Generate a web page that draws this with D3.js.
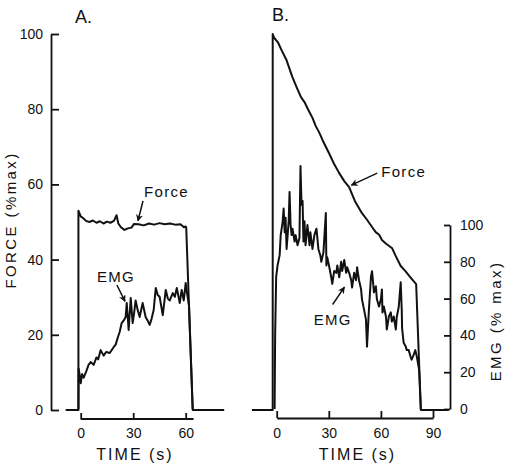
<!DOCTYPE html>
<html>
<head>
<meta charset="utf-8">
<script src="https://cdn.jsdelivr.net/npm/d3@7"></script>
<style>
  html, body { margin: 0; padding: 0; background: #fff; }
  svg text { font-family: "Liberation Sans", Arial, sans-serif; fill: #111; }
</style>
</head>
<body>
<div id="chart"></div>
<script>
const width = 517;
const height = 473;

// Tick values
const forceTicks = [0, 20, 40, 60, 80, 100];
const emgTicks = [0, 20, 40, 60, 80, 100];
const timeTicksA = [0, 30, 60];
const timeTicksB = [0, 30, 60, 90];

// Panel A: [time (s), % max]
const forceA = [[-8.6,0],[-1.3,0],[-1.3,53],[0,51.5],[1.5,51],[3,50.3],[5,50],[7,50.4],[9,49.8],[11,50.2],
  [13,49.6],[15,50.1],[17,49.8],[19,50.3],[20.5,51.8],[21.5,49.6],[23,48.6],[25,47.9],[27,48.3],[29,48.5],
  [30.5,49.5],[33,49.4],[36,49.1],[39,49.6],[42,49.3],[45,49.7],[48,49.4],[51,49.6],[54,49.3],[57,49.4],
  [59,48.6],[60,48.8],[60.3,48.5],[64,0],[82,0]];
const emgA = [[-1.3,0],[-1.2,22],[-0.5,18],[0,14],[0.8,19],[1.7,17],[3,20],[4.5,24],[5.7,25.5],[7.4,24],
  [9,28],[10,27],[11.4,32],[13.1,29],[14.5,31],[16.6,30.4],[18.9,33.7],[20,35],[21.1,38.6],[22.3,42],
  [23.4,46.7],[24.5,48],[25.7,50],[26.3,57.6],[27.4,43],[28.6,60.3],[29.7,46.7],[30.5,52],[31.4,59],[32.5,54],
  [33.7,50],[35.4,57.6],[37.1,50],[38.3,48],[39.4,45.7],[40.5,49],[41.7,53.8],[42.9,65.8],[44,62],[45.1,61],
  [46.9,51],[48.6,64.7],[49.8,60],[50.9,59],[52.6,63],[53.8,61],[54.9,65.8],[56.6,57.6],[57.7,64.7],[58.9,59],
  [60,68.5],[60.6,64],[61.9,56],[64,0]];

// Panel B: [time (s), % max]
const forceB = [[-14.3,0],[-2.3,0],[-2.3,100],[-1.5,99],[0.7,97.8],[3,95.5],[5.7,93],[7.5,90.6],[9,88.6],
  [11.5,85.8],[14,83.2],[16,81.9],[18,80],[20.6,77.7],[22.5,75.5],[24.6,73.7],[27,71.2],[30,68.4],[33,65.5],
  [36,63],[39,60.8],[41.7,59.3],[45,55.6],[49,52.4],[52,50.6],[55,48.6],[57,47.3],[59,46.6],[60.6,45.2],
  [63,44.2],[66.5,43],[68.5,41],[71.4,38.3],[74,37],[77,35.3],[80.3,33.5],[83,0],[99,0]];
const emgB = [[-1.2,0],[-0.9,40],[-0.3,72],[0.5,78],[1.7,83.6],[2.3,94.5],[3.4,101.6],[4,109],[4.6,96],[5.1,104],
  [5.7,87],[6.9,102],[7.4,118],[8,100],[8.6,94.5],[9.1,98],[10.3,91],[10.9,94.5],[12,89],[13.1,93],
  [13.7,132],[14.3,111],[14.9,113],[15.4,91],[16,102],[16.6,89],[17.7,100],[18.9,89],[19.4,96],[20.6,87],
  [21.7,94.5],[22.9,98],[24,87],[25.1,83.6],[25.7,80],[26.9,85],[28.3,106.5],[28.6,78],[29.1,82.5],[30.3,77],
  [31.4,71.6],[32,68],[33.1,75],[34.3,74],[34.9,78],[36,71.6],[37.1,80],[37.7,75],[38.9,81],[40,74],
  [40.6,77],[41.7,74],[42.9,70],[43.4,66],[44.6,74],[45.7,70],[46.3,77],[47.4,70],[48.6,65],[49.1,59.6],
  [50.3,54],[51.4,48.6],[52,33.9],[53.1,54],[54.3,72],[54.9,74.9],[56,63.4],[57.1,66.7],[57.7,59.6],[58.9,55.7],
  [60,59.6],[60.6,65],[60.9,52.5],[61.7,55.7],[62.9,50.3],[63.4,43.2],[64.6,50.3],[65.7,52.5],[66.3,47.5],[67.4,50.3],
  [68.6,43.2],[69.1,49.7],[70.3,55.7],[71.4,68.9],[72,54],[72.2,44],[73.1,36],[74.3,34],[74.9,32],[76,32],
  [77.1,28.4],[77.7,26.8],[78.9,29.5],[79.8,32],[80.7,28.4],[82,21.3],[83,0]];

// Annotations: label position and arrow, in data units
const notesA = [
  { text: "Force", scale: "force", lt: 36.2, lv: 56.6, from: [35.6, 55.6], to: [32.7, 50.3] },
  { text: "EMG", scale: "emg", lt: 9.3, lv: 69, from: [20.7, 67.4], to: [25.3, 58.5] }
];
const notesB = [
  { text: "Force", scale: "force", lt: 60.2, lv: 62, from: [57.9, 63], to: [43, 59.8] },
  { text: "EMG", scale: "emg", lt: 21.3, lv: 45.9, from: [32.2, 56.8], to: [39, 66.2] }
];

const ink = "#111";

const svg = d3.select("#chart")
  .append("svg")
  .attr("width", width)
  .attr("height", height);

svg.append("defs").append("marker")
  .attr("id", "arrowhead")
  .attr("viewBox", "0 0 10 10")
  .attr("refX", 9)
  .attr("refY", 5)
  .attr("markerWidth", 7)
  .attr("markerHeight", 7)
  .attr("markerUnits", "userSpaceOnUse")
  .attr("orient", "auto")
  .append("path")
  .attr("d", "M0,0 L10,5 L0,10 L3,5 Z")
  .attr("fill", ink);

// Scales
const xA = d3.scaleLinear().domain([0, 60]).range([80.7, 185.7]);
const xB = d3.scaleLinear().domain([0, 90]).range([276.7, 433]);
const yForce = d3.scaleLinear().domain([0, 100]).range([410, 34]);
const yEmg = d3.scaleLinear().domain([0, 100]).range([409, 225]);

function styleAxis(g) {
  g.selectAll("path, line").attr("stroke", ink).attr("stroke-width", 1.8);
  g.selectAll("text")
    .attr("fill", ink)
    .style("font-size", "14px")
    .style("font-family", "'Liberation Sans', Arial, sans-serif");
}

// Left force axis
svg.append("g")
  .attr("transform", "translate(51,0)")
  .call(d3.axisLeft(yForce).tickValues(forceTicks).tickSizeInner(-8).tickSizeOuter(0).tickPadding(8))
  .call(styleAxis);

// Right EMG axis
svg.append("g")
  .attr("transform", "translate(450,0)")
  .call(d3.axisRight(yEmg).tickValues(emgTicks).tickSizeInner(-6).tickSizeOuter(0).tickPadding(10))
  .call(styleAxis);

// Time axes
const axA = svg.append("g")
  .attr("transform", "translate(0,419)")
  .call(d3.axisBottom(xA).tickValues(timeTicksA).tickSizeInner(-6).tickSizeOuter(0).tickPadding(9))
  .call(styleAxis);
axA.select(".domain").remove();
axA.append("line")
  .attr("x1", xA(0)).attr("x2", xA(64.5))
  .attr("stroke", ink).attr("stroke-width", 1.8);

svg.append("g")
  .attr("transform", "translate(0,418)")
  .call(d3.axisBottom(xB).tickValues(timeTicksB).tickSizeInner(-7).tickSizeOuter(0).tickPadding(10))
  .call(styleAxis);

// Traces
function drawTrace(data, x, y) {
  svg.append("path")
    .datum(data)
    .attr("fill", "none")
    .attr("stroke", ink)
    .attr("stroke-width", 2)
    .attr("stroke-linejoin", "round")
    .attr("d", d3.line().x(d => x(d[0])).y(d => y(d[1])));
}
drawTrace(forceA, xA, yForce);
drawTrace(emgA, xA, yEmg);
drawTrace(forceB, xB, yForce);
drawTrace(emgB, xB, yEmg);

// Annotations
function drawNotes(notes, x) {
  notes.forEach(n => {
    const y = n.scale === "force" ? yForce : yEmg;
    svg.append("text")
      .attr("x", x(n.lt))
      .attr("y", y(n.lv))
      .style("font-size", "15px")
      .style("letter-spacing", "1.3px")
      .text(n.text);
    svg.append("line")
      .attr("x1", x(n.from[0])).attr("y1", y(n.from[1]))
      .attr("x2", x(n.to[0])).attr("y2", y(n.to[1]))
      .attr("stroke", ink)
      .attr("stroke-width", 1.5)
      .attr("marker-end", "url(#arrowhead)");
  });
}
drawNotes(notesA, xA);
drawNotes(notesB, xB);

// Panel letters
svg.append("text").attr("x", 75).attr("y", 23).style("font-size", "18px").text("A.");
svg.append("text").attr("x", 272).attr("y", 21).style("font-size", "18px").text("B.");

// Axis titles
svg.append("text")
  .attr("transform", "translate(10,220) rotate(-90)")
  .attr("text-anchor", "middle")
  .attr("dominant-baseline", "central")
  .style("font-size", "15px")
  .style("letter-spacing", "2.4px")
  .text("FORCE (%max)");

svg.append("text")
  .attr("transform", "translate(495,321) rotate(-90)")
  .attr("text-anchor", "middle")
  .attr("dominant-baseline", "central")
  .style("font-size", "15px")
  .style("letter-spacing", "2.4px")
  .text("EMG (% max)");

svg.append("text")
  .attr("x", 135).attr("y", 460)
  .attr("text-anchor", "middle")
  .style("font-size", "16px")
  .style("letter-spacing", "2px")
  .text("TIME (s)");

svg.append("text")
  .attr("x", 357.5).attr("y", 460)
  .attr("text-anchor", "middle")
  .style("font-size", "16px")
  .style("letter-spacing", "2px")
  .text("TIME (s)");
</script>
</body>
</html>
